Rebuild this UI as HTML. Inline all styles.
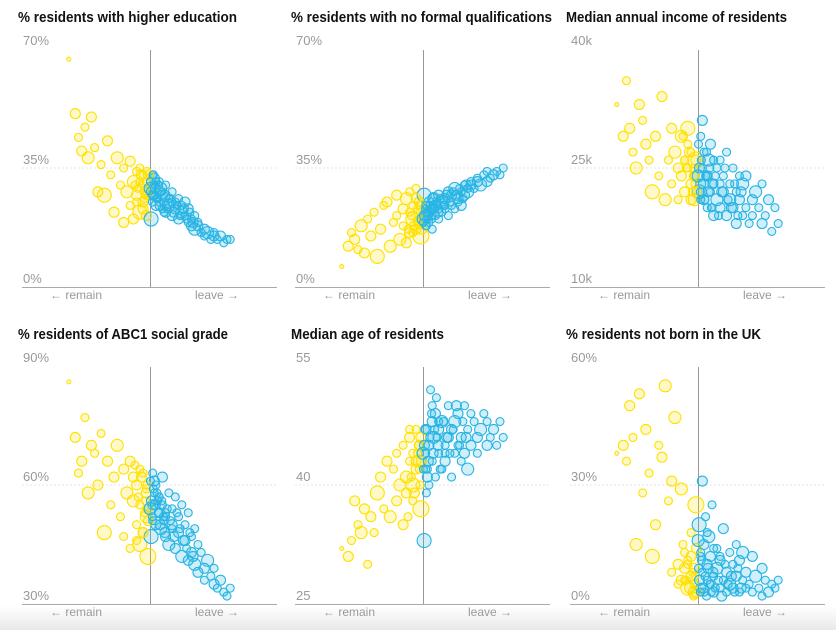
<!DOCTYPE html>
<html><head><meta charset="utf-8"><style>
html,body{margin:0;padding:0;background:#fff;}
svg{display:block;font-family:"Liberation Sans",sans-serif;}
</style></head><body>
<svg id="chart" width="836" height="630" viewBox="0 0 836 630" xmlns="http://www.w3.org/2000/svg">
<defs><linearGradient id="fade" x1="0" y1="0" x2="0" y2="1"><stop offset="0" stop-color="#fff"/><stop offset="1" stop-color="#e9e9e9"/></linearGradient></defs>
<rect width="836" height="630" fill="#fff"/>
<rect x="0" y="606" width="836" height="24" fill="url(#fade)"/>
</svg>
<script>
const titles=["% residents with higher education","% residents with no formal qualifications","Median annual income of residents","% residents of ABC1 social grade","Median age of residents","% residents not born in the UK"];
const titleWidths=[219,261,221,210,153,195];
const yMins=[0,0,10,30,25,0];
const yMaxs=[70,70,40,90,55,60];
const tickLabels=[["0%","35%","70%"],["0%","35%","70%"],["10k","25k","40k"],["30%","60%","90%"],["25","40","55"],["0%","30%","60%"]];
const leaveShare=[25,27,28,29,30,31,32,33,34,35,36,37,38,39,40,41,42,42,43,44,44,45,45,46,46,47,47,48,48,49,49,49.5,
50.5,51,51,51.5,52,52,53,53,53.5,54,54,55,55,56,56,57,57,58,58,59,59,60,60,61,61,62,62,63,63,64,64,65,65,66,67,67,68,69,70,70,71,72,73,74,75,51.5,52.5,54.5,
46.5,47.5,48.5,49,49.5,47,48,49.2,45.5,48.8,49.7,46,
50.3,50.6,50.9,51.2,51.8,52.3,52.8,53.3,53.8,54.3,54.8,55.5,56.5,57.5,58.5,59.5,60.5,61.5,62.5,63.5,50.2,51,53,55,57];
const radius=[2,5,4,5,4,6,5,4,5,4,7,5,4,5,6,4,5,4,6,5,4,6,5,4,5,7,4,5,4,6,5,8,
7,4,5,4,5,4,5,4,6,4,5,4,5,4,6,4,5,4,5,4,5,4,6,4,5,4,5,4,5,4,6,4,5,4,5,4,6,4,5,4,4,5,4,4,4,5,4,4,
4,5,4,4,5,4,5,4,4,4,5,4,
4,5,4,4,5,4,4,5,4,4,5,4,4,5,4,4,5,4,4,5,6,4,4,4,4];
const education=[67,51,44,40,47,38,50,41,28,36,27,43,33,22,38,30,19,35,28,37,24,31,20,34,27,22,31,25,33,28,21,30,
20,33,27,30,24,31,28,25,29,23,27,30,22,26,24,28,21,25,23,26,20,24,22,21,25,19,23,20,18,21,17,19,18,16,17,15,16,14,15,16,14,15,13,14,14,32,26,22,
29,33,26,31,28,35,23,34,30,27,33,25,
31,28,25,33,29,26,30,24,28,25,27,23,26,22,24,21,23,20,22,19,29,27,31,24,25];
const noQualifications=[6,12,16,14,11,18,10,20,15,22,9,17,24,25,12,19,27,21,14,23,18,26,13,22,16,20,24,17,29,19,25,15,
27,18,22,20,25,19,23,17,26,21,24,20,27,22,25,23,26,21,28,24,27,23,29,25,26,28,24,30,27,29,28,31,30,29,31,32,30,33,31,34,32,33,34,33,35,21,23,24,
21,18,23,20,24,16,26,22,17,19,17,28,
19,21,23,18,22,24,20,26,23,25,22,26,24,27,25,28,27,29,26,30,20,24,21,23,24];
const income=[33,29,36,30,27,25,33,31,28,26,22,29,24,34,21,26,30,23,27,25,21,29,24,26,22,30,25,23,27,21,24,26,
22,29,23,25,21,27,24,20,26,22,28,23,19,25,21,26,20,24,22,27,19,23,21,25,20,22,18,24,21,19,23,20,24,18,21,19,22,20,18,23,19,21,17,20,18,31,24,20,
25,27,22,24,26,28,21,23,29,25,22,26,
28,25,22,26,23,21,27,22,25,20,23,24,19,22,25,21,20,23,19,22,24,21,24,26,23];
const abc1=[86,72,63,66,77,58,70,68,60,73,48,66,55,62,70,52,64,47,58,66,44,56,62,50,60,45,55,48,63,52,58,42,
47,63,55,58,50,60,53,57,49,55,62,52,47,58,45,54,50,57,44,52,48,55,42,50,46,53,41,47,43,49,40,45,38,43,39,36,41,37,35,39,34,36,33,32,34,61,56,51,
57,62,53,59,54,64,48,60,65,56,51,46,
61,56,52,59,55,58,53,50,56,52,48,54,51,47,53,49,46,44,48,42,54,51,57,53,49];
const medianAge=[32,31,33,38,35,34,37,30,36,34,39,41,37,43,36,42,38,44,40,35,45,41,39,43,46,40,44,42,47,43,45,37,
33,44,47,42,45,40,48,43,46,41,49,44,47,42,48,45,43,50,46,41,47,44,48,45,49,43,46,50,44,47,42,49,45,48,46,44,47,49,45,48,46,47,45,48,46,41,52,46,
41,39,44,42,46,38,43,40,36,45,43,47,
42,45,47,39,43,46,49,44,47,51,45,42,48,46,44,47,50,45,48,46,44,42,50,48,44];
const foreignBorn=[38,40,36,50,42,15,53,28,44,33,12,20,40,37,55,26,31,8,47,10,5,29,6,13,9,4,11,7,18,3,9,25,
20,12,4,8,15,3,10,6,17,5,12,7,3,14,9,4,11,6,19,3,8,13,5,10,4,15,7,3,11,6,13,4,8,5,12,3,7,4,9,2,6,3,5,4,6,31,22,25,
6,4,8,5,3,10,12,7,15,2,14,6,
9,6,3,11,4,7,2,9,5,3,8,4,6,2,10,5,7,3,9,4,16,13,18,14,12];
const values=[education,noQualifications,income,abc1,medianAge,foreignBorn];

const NS="http://www.w3.org/2000/svg";
const svg=document.getElementById('chart');
const colX=[0,273,548], rowY=[0,317];
const L=22,R=277,T=49,B=287,X0=10.5,X1=89.5;
function mk(tag,attrs,parent){const e=document.createElementNS(NS,tag);for(const k in attrs)e.setAttribute(k,attrs[k]);(parent||svg).appendChild(e);return e;}
function xScale(v,ox){return ox+L+(v-X0)/(X1-X0)*(R-L);}
function yScale(v,p,oy){return oy+B-(v-yMins[p])/(yMaxs[p]-yMins[p])*(B-T);}
for(let p=0;p<6;p++){
  const ox=colX[p%3], oy=rowY[Math.floor(p/3)];
  const g=mk('g',{});
  
  
  const t=mk('text',{x:ox+18,y:oy+22,'font-size':15,'font-weight':'bold',fill:'#121212',textLength:titleWidths[p],lengthAdjust:'spacingAndGlyphs'},g);
  t.textContent=titles[p];
  
  
  const mid=(yMins[p]+yMaxs[p])/2;
  const grid=mk('line',{x1:ox+L,x2:ox+R,y1:yScale(mid,p,oy),y2:yScale(mid,p,oy),stroke:'#e4e4e4','stroke-dasharray':'2,2'},g);
  
  
  const tv=[yMins[p],mid,yMaxs[p]];
  for(let k=0;k<3;k++){
    const tl=mk('text',{x:ox+L+1,y:yScale(tv[k],p,oy)-4,'font-size':13,fill:'#999'},g);
    tl.textContent=tickLabels[p][k];
    
    
  }
  const ax=mk('line',{x1:ox+L,x2:ox+R,y1:oy+B+0.5,y2:oy+B+0.5,stroke:'#aaa'},g);
  
  
  const cx=Math.round(xScale(50,ox))+0.5;
  const vl=mk('line',{x1:cx,x2:cx,y1:oy+T+1,y2:oy+B,stroke:'#999'},g);
  
  
  const rm=mk('text',{x:ox+76,y:oy+299,'font-size':12,fill:'#999','text-anchor':'middle'},g);
  rm.textContent='← remain';
  
  
  const lv=mk('text',{x:ox+217,y:oy+299,'font-size':12,fill:'#999','text-anchor':'middle'},g);
  lv.textContent='leave →';
  
  
  const vals=values[p];
  for(let i=0;i<leaveShare.length;i++){
    const isLeave=leaveShare[i]>=50;
    const col=isLeave?'#28b4e4':'#ffe100';
    const c=mk('circle',{cx:xScale(leaveShare[i],ox),cy:yScale(vals[i],p,oy),r:radius[i],fill:col,'fill-opacity':0.22,stroke:col,'stroke-width':1.1},g);
    
    
  }
}
</script>
</body></html>
